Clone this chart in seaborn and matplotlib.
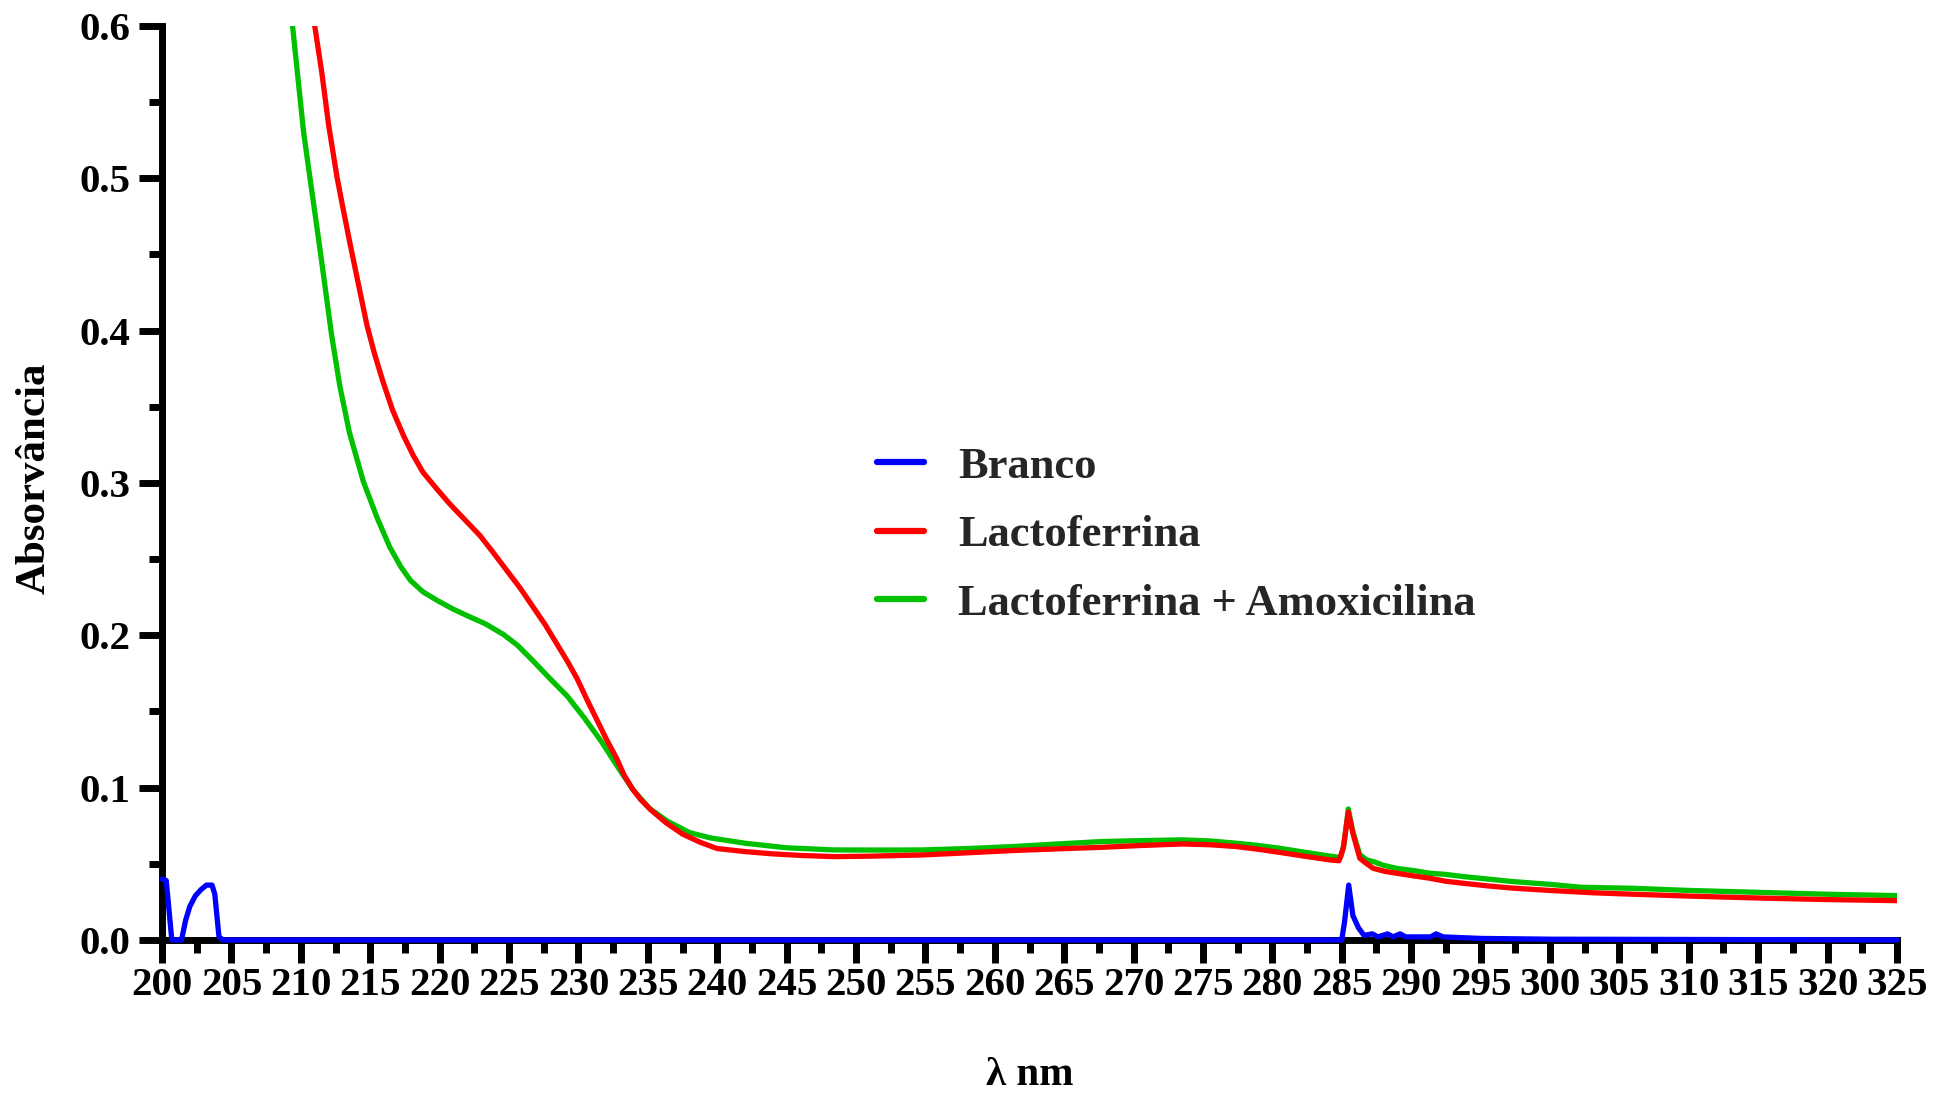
import matplotlib
matplotlib.use("Agg")
import matplotlib.pyplot as plt
from matplotlib.ticker import MultipleLocator, FormatStrFormatter
import seaborn as sns
import pandas as pd

# UV-Vis absorbance spectra (wavelength in nm, absorbance)
branco_nm = [200.0, 200.3, 200.7, 201.4, 201.7, 202.0, 202.4, 202.8, 203.2, 203.6, 203.8,
             204.1, 204.4, 285.0, 285.2, 285.5, 285.8, 286.2, 286.6, 287.2, 287.6, 288.3,
             288.7, 289.2, 289.6, 291.4, 291.8, 292.3, 295.0, 300.0, 325.0]
branco_abs = [0.040, 0.039, 0.000, 0.000, 0.013, 0.022, 0.029, 0.033, 0.036, 0.036, 0.030,
              0.002, 0.000, 0.000, 0.012, 0.036, 0.016, 0.008, 0.003, 0.004, 0.002, 0.004,
              0.002, 0.004, 0.002, 0.002, 0.004, 0.002, 0.001, 0.0005, 0.000]

lacto_nm = [211.0, 211.5, 212.0, 212.6, 213.0, 213.5, 214.0, 214.75, 215.3, 215.9, 216.6,
            217.4, 218.1, 218.8, 219.8, 220.75, 221.8, 222.9, 223.8, 224.8, 225.8, 226.7,
            227.6, 228.4, 229.2, 229.9, 230.6, 231.3, 232.0, 232.76, 233.3, 233.9, 234.5,
            235.2, 236.3, 237.5, 238.8, 240.0, 242.0, 244.0, 246.0, 248.4, 251.0, 254.8,
            258.0, 261.3, 264.5, 267.7, 270.5, 273.5, 275.5, 277.4, 279.0, 280.5, 282.3,
            284.15, 284.8, 285.1, 285.47, 285.8, 286.3, 286.8, 287.27, 288.1, 288.95, 290.2,
            291.35, 292.5, 293.75, 295.5, 297.35, 300.0, 303.0, 306.0, 310.0, 315.6, 320.0,
            325.0]
lacto_abs = [0.600, 0.570, 0.535, 0.501, 0.482, 0.459, 0.437, 0.404, 0.385, 0.367, 0.348,
             0.331, 0.318, 0.307, 0.296, 0.286, 0.276, 0.2655, 0.255, 0.243, 0.231, 0.219,
             0.207, 0.195, 0.183, 0.1716, 0.158, 0.145, 0.132, 0.119, 0.108, 0.099, 0.092,
             0.0855, 0.077, 0.0695, 0.064, 0.060, 0.058, 0.0565, 0.0555, 0.0547, 0.0550, 0.0558,
             0.0572, 0.0587, 0.0598, 0.0608, 0.0620, 0.0630, 0.0625, 0.0613, 0.0595, 0.0575,
             0.0550, 0.0525, 0.0520, 0.0600, 0.0840, 0.0700, 0.0536, 0.0500, 0.0470, 0.0450,
             0.0438, 0.0420, 0.0405, 0.0385, 0.0372, 0.0355, 0.0340, 0.0325, 0.0310, 0.0300,
             0.0288, 0.0274, 0.0265, 0.0258]

lacto_amox_nm = [209.4, 209.8, 210.2, 210.66, 211.0, 211.4, 211.8, 212.2, 212.8, 213.5, 214.5,
                 215.5, 216.4, 217.2, 217.9, 218.8, 219.8, 220.9, 221.95, 223.3, 224.6, 225.6,
                 226.7, 227.9, 229.2, 230.4, 231.6, 232.8, 233.9, 235.1, 236.4, 238.0, 239.5,
                 242.0, 245.0, 248.4, 252.0, 254.8, 258.0, 261.3, 264.5, 267.7, 270.5, 273.5,
                 275.5, 277.4, 279.0, 280.5, 282.4, 284.4, 284.9, 285.15, 285.47, 285.8, 286.3,
                 286.8, 287.3, 288.0, 288.95, 290.2, 291.35, 292.5, 293.75, 295.5, 297.35,
                 300.0, 302.2, 306.0, 310.0, 315.6, 320.0, 325.0]
lacto_amox_abs = [0.600, 0.565, 0.530, 0.500, 0.478, 0.452, 0.425, 0.398, 0.364, 0.333, 0.301,
                  0.277, 0.258, 0.245, 0.236, 0.2285, 0.223, 0.2175, 0.213, 0.2075, 0.2005, 0.1935,
                  0.1835, 0.172, 0.160, 0.146, 0.131, 0.114, 0.099, 0.0865, 0.078, 0.0705, 0.067,
                  0.0635, 0.0605, 0.0591, 0.0590, 0.0591, 0.0600, 0.0613, 0.0630, 0.0646, 0.0652,
                  0.0657, 0.0650, 0.0635, 0.0620, 0.0602, 0.0575, 0.0547, 0.0540, 0.0620, 0.0860,
                  0.0710, 0.0560, 0.0525, 0.0514, 0.0490, 0.0470, 0.0455, 0.0438, 0.0430, 0.0416,
                  0.0400, 0.0383, 0.0365, 0.0346, 0.0339, 0.0325, 0.0311, 0.0300, 0.0291]

series_names = ["Branco", "Lactoferrina", "Lactoferrina + Amoxicilina"]
series_colors = ["#0000ff", "#ff0000", "#00c000"]

x_ticks = list(range(200, 326, 5))
y_ticks = [0.0, 0.1, 0.2, 0.3, 0.4, 0.5, 0.6]

sns.set_theme(style="ticks")
plt.rcParams["font.family"] = ["Liberation Serif", "DejaVu Serif"]
plt.rcParams["font.weight"] = "bold"

fig = plt.figure(figsize=(19.41, 10.95), dpi=100)
ax = fig.add_axes([0.0835, 0.1416, 0.8938, 0.8347])

frames = {
    "Branco": pd.DataFrame({"nm": branco_nm, "abs": branco_abs}),
    "Lactoferrina": pd.DataFrame({"nm": lacto_nm, "abs": lacto_abs}),
    "Lactoferrina + Amoxicilina": pd.DataFrame({"nm": lacto_amox_nm, "abs": lacto_amox_abs}),
}
color_of = dict(zip(series_names, series_colors))

lw = 3.8
# blank first, then the two protein spectra (red on top)
for name, z in [("Branco", 3.2), ("Lactoferrina + Amoxicilina", 3.0), ("Lactoferrina", 3.1)]:
    sns.lineplot(data=frames[name], x="nm", y="abs", ax=ax, color=color_of[name],
                 linewidth=lw, estimator=None, sort=False, label=name, zorder=z)

for line in ax.get_lines():
    line.set_solid_joinstyle("round")
    if line.get_label() == "Branco":
        line.set_clip_on(False)

ax.set_xlim(200, 325)
ax.set_ylim(0, 0.6)
ax.set_xticks(x_ticks)
ax.xaxis.set_minor_locator(MultipleLocator(2.5))
ax.set_yticks(y_ticks)
ax.yaxis.set_minor_locator(MultipleLocator(0.05))
ax.yaxis.set_major_formatter(FormatStrFormatter("%.1f"))

sns.despine(ax=ax)
for side in ("left", "bottom"):
    ax.spines[side].set_linewidth(5)
    ax.spines[side].set_color("black")
    ax.spines[side].set_zorder(2.5)

tick_fs = 29.5
ax.tick_params(axis="both", which="major", length=16.5, width=5, color="black",
               labelsize=tick_fs, labelcolor="black")
ax.tick_params(axis="both", which="minor", length=9.5, width=5, color="black")
ax.tick_params(axis="x", which="major", pad=3)
ax.tick_params(axis="y", which="major", pad=6)
for lab in ax.get_xticklabels() + ax.get_yticklabels():
    lab.set_fontweight("bold")

ax.set_xlabel("")
ax.set_ylabel("")
fig.text(1029.5 / 1941, 1 - 1085 / 1095, "λ nm", ha="center", va="baseline",
         fontsize=29.5, fontweight="bold", color="black")
fig.text(35 / 1941, 1 - 478 / 1095, "Absorvância", rotation=90, ha="center", va="center",
         fontsize=31, fontweight="bold", color="black")

handles, labels = ax.get_legend_handles_labels()
order = [labels.index(n) for n in series_names]
leg = ax.legend([handles[i] for i in order], [labels[i] for i in order],
                loc="upper left", bbox_to_anchor=(0.4122, 0.540), frameon=False,
                handlelength=1.06, handletextpad=0.76,
                labelspacing=0.64, borderpad=0, borderaxespad=0,
                prop={"weight": "bold", "size": 32})
for h in leg.get_lines():
    h.set_linewidth(4.5)

fig.savefig("out.png", dpi=100, facecolor="white")
